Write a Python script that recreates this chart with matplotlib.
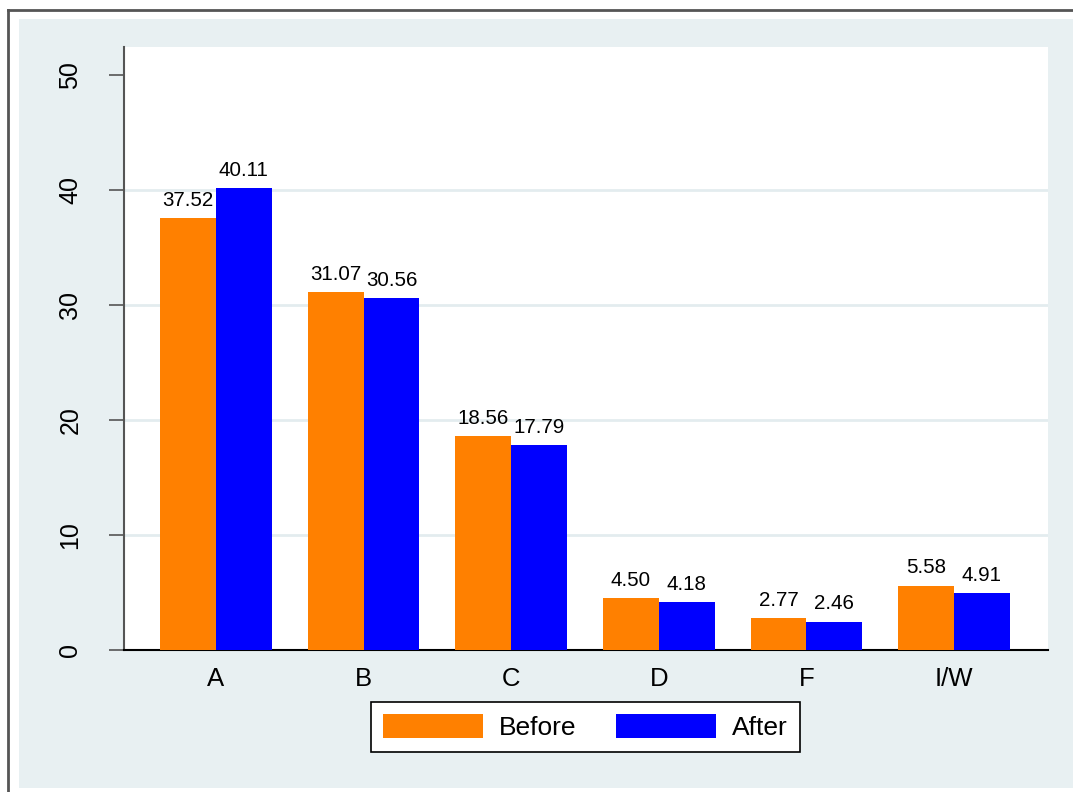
import numpy as np
import matplotlib.pyplot as plt
from matplotlib.patches import Rectangle
from matplotlib.lines import Line2D

categories = ["A", "B", "C", "D", "F", "I/W"]
before = [37.52, 31.07, 18.56, 4.50, 2.77, 5.58]
after = [40.11, 30.56, 17.79, 4.18, 2.46, 4.91]

plt.rcParams.update({
    "font.family": ["Liberation Sans", "DejaVu Sans"],
    "font.size": 18,
})

W, H = 1073, 792
fig = plt.figure(figsize=(W / 100, H / 100), dpi=100)
fig.patch.set_facecolor("white")

# stata-ish outer frame
fig.patches.append(Rectangle((19 / W, 4 / H), 1, (788 - 19) / H, transform=fig.transFigure,
                             facecolor="#E8F0F2", edgecolor="none", zorder=-10))
fig.lines.append(Line2D([8 / W, 8 / W], [0, 1 - 10 / H], transform=fig.transFigure,
                        color="#555555", lw=2, zorder=-5))
fig.lines.append(Line2D([8 / W, 1], [1 - 10 / H, 1 - 10 / H], transform=fig.transFigure,
                        color="#555555", lw=2, zorder=-5))

ax = fig.add_axes([124 / W, (H - 650) / H, 924 / W, 603 / H])
ax.set_zorder(1)
ax.set_facecolor("white")

x = np.arange(len(categories))
bw = 0.378
b1 = ax.bar(x - bw / 2, before, bw, color="#FF8000", label="Before", zorder=3)
b2 = ax.bar(x + bw / 2, after, bw, color="#0000FF", label="After", zorder=3)

for bars, vals in ((b1, before), (b2, after)):
    for r, v in zip(bars, vals):
        ax.annotate(f"{v:.2f}", (r.get_x() + r.get_width() / 2, v), xytext=(0, 6),
                    textcoords="offset points", ha="center", va="bottom", fontsize=14.8)

ax.set_xlim(-0.623, 5.637)
ax.set_ylim(0, 52.4)
ax.set_yticks([0, 10, 20, 30, 40, 50])
ax.set_xticks(x)
ax.set_xticklabels(categories, fontsize=18.5)
for g in [10, 20, 30, 40]:
    ax.axhline(g, color="#E3ECEF", lw=2, zorder=1)

for s in ["top", "right"]:
    ax.spines[s].set_visible(False)
ax.spines["left"].set_color("#555555")
ax.spines["left"].set_linewidth(1.5)
ax.spines["bottom"].set_color("black")
ax.spines["bottom"].set_linewidth(1.5)
ax.tick_params(axis="y", length=11, width=1.2, color="#555555", pad=19, labelrotation=90)
for lab in ax.get_yticklabels():
    lab.set_va("center")
ax.tick_params(axis="x", length=0, pad=12)

leg = ax.legend(loc="center", bbox_to_anchor=(585.5 / W, 1 - 727 / H),
                bbox_transform=fig.transFigure, ncol=2, frameon=True, fancybox=False,
                edgecolor="black", facecolor="white", framealpha=1,
                handlelength=3.8, handleheight=1.06,
                handletextpad=0.6, columnspacing=1.5, borderpad=0.45, fontsize=19)
leg.get_frame().set_linewidth(1.2)

fig.savefig("out.png", dpi=100)
